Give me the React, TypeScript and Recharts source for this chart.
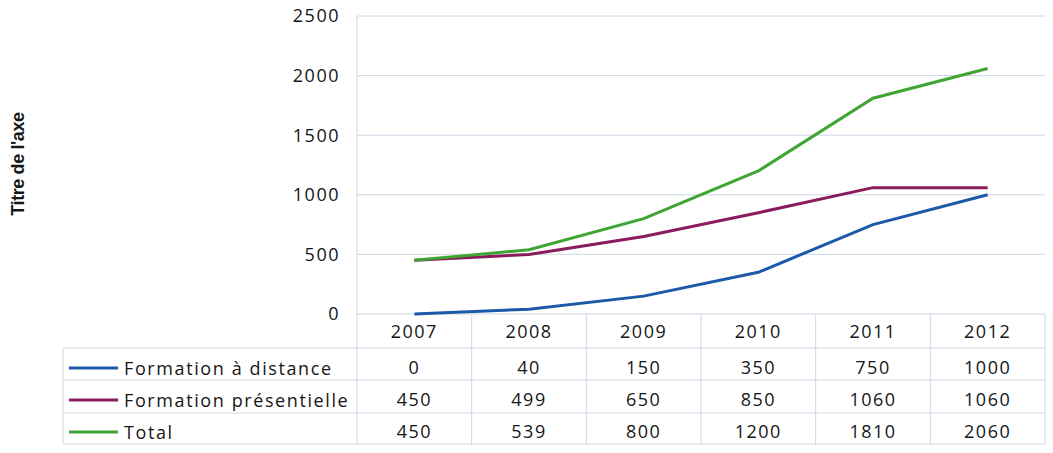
import React from "react";
import { CartesianGrid, Line, LineChart, XAxis, YAxis } from "recharts";

const years = ["2007", "2008", "2009", "2010", "2011", "2012"];
const distance = [0, 40, 150, 350, 750, 1000];
const presentiel = [450, 499, 650, 850, 1060, 1060];
const total = [450, 539, 800, 1200, 1810, 2060];
const yTicks = [0, 500, 1000, 1500, 2000, 2500];

const SERIES = [
  { key: "distance", name: "Formation à distance", color: "#1d59a9", values: distance },
  { key: "presentiel", name: "Formation présentielle", color: "#8a1b5d", values: presentiel },
  { key: "total", name: "Total", color: "#3fa533", values: total },
];

const data = years.map((y, i) => ({
  year: y,
  distance: distance[i],
  presentiel: presentiel[i],
  total: total[i],
}));

const W = 1053;
const H = 453;
const PLOT_L = 357;
const PLOT_R = 1045;
const PLOT_B = 314;
const BAND = (PLOT_R - PLOT_L) / years.length;
const TABLE_L = 63;
const ROW_LINES = [348, 380, 413, 444];
const HEADER_Y = 331;
const ROW_Y = [367, 399, 431];
const LINE_C = "#cfd6e4";
const FONT = "'Open Sans', sans-serif";
const TEXT_C = "#161616";

function TableTick(props: any) {
  const { x, payload, index } = props;
  const i = payload?.index ?? index ?? 0;
  const left = x - BAND / 2;
  return (
    <g>
      <line x1={left} x2={left} y1={PLOT_B} y2={ROW_LINES[3]} stroke={LINE_C} />
      {i === years.length - 1 && (
        <line x1={x + BAND / 2} x2={x + BAND / 2} y1={PLOT_B} y2={ROW_LINES[3]} stroke={LINE_C} />
      )}
      <text
        x={x}
        y={HEADER_Y}
        textAnchor="middle"
        dominantBaseline="central"
        fontFamily={FONT}
        fontSize={18}
        letterSpacing={1.5}
        fill={TEXT_C}
      >
        {payload.value}
      </text>
      {SERIES.map((s, r) => (
        <text
          key={s.key}
          x={x}
          y={ROW_Y[r]}
          textAnchor="middle"
          dominantBaseline="central"
          fontFamily={FONT}
          fontSize={18}
          letterSpacing={1.5}
          fill={TEXT_C}
        >
          {s.values[i]}
        </text>
      ))}
    </g>
  );
}

export default function App() {
  return (
    <div style={{ position: "absolute", left: 0, top: 0, width: W, height: H, background: "#fff" }}>
      <LineChart width={W} height={H} data={data} margin={{ top: 16, right: W - PLOT_R, left: 0, bottom: 0 }}>
        <CartesianGrid vertical={false} stroke={LINE_C} strokeWidth={1} />
        <XAxis
          dataKey="year"
          height={H - PLOT_B}
          axisLine={false}
          tickLine={false}
          interval={0}
          padding={{ left: BAND / 2, right: BAND / 2 }}
          tick={<TableTick />}
        />
        <YAxis
          width={PLOT_L}
          domain={[0, 2500]}
          ticks={yTicks}
          axisLine={{ stroke: LINE_C }}
          tickLine={false}
          tickSize={0}
          tickMargin={17}
          tick={{ fontFamily: FONT, fontSize: 18, letterSpacing: 1.5, fill: TEXT_C }}
        />
        {SERIES.map((s) => (
          <Line
            key={s.key}
            dataKey={s.key}
            name={s.name}
            type="linear"
            stroke={s.color}
            strokeWidth={3}
            dot={false}
            isAnimationActive={false}
          />
        ))}
      </LineChart>
      <svg
        width={W}
        height={H}
        style={{ position: "absolute", left: 0, top: 0, pointerEvents: "none" }}
      >
        {ROW_LINES.map((y) => (
          <line key={y} x1={TABLE_L} x2={PLOT_R} y1={y} y2={y} stroke={LINE_C} />
        ))}
        <line x1={TABLE_L} x2={TABLE_L} y1={ROW_LINES[0]} y2={ROW_LINES[3]} stroke={LINE_C} />
        {SERIES.map((s, r) => (
          <g key={s.key}>
            <line x1={69} x2={118} y1={ROW_Y[r] + 1} y2={ROW_Y[r] + 1} stroke={s.color} strokeWidth={3} />
            <text
              x={124}
              y={ROW_Y[r] + 1}
              dominantBaseline="central"
              fontFamily={FONT}
              fontSize={18}
              letterSpacing={1.6}
              fill={TEXT_C}
            >
              {s.name}
            </text>
          </g>
        ))}
        <text
          transform="translate(24,164) rotate(-90)"
          textAnchor="middle"
          fontFamily="'Liberation Sans', Arial, sans-serif"
          fontWeight="bold"
          fontSize={18}
          letterSpacing={-0.4}
          fill={TEXT_C}
        >
          Titre de l'axe
        </text>
      </svg>
    </div>
  );
}
